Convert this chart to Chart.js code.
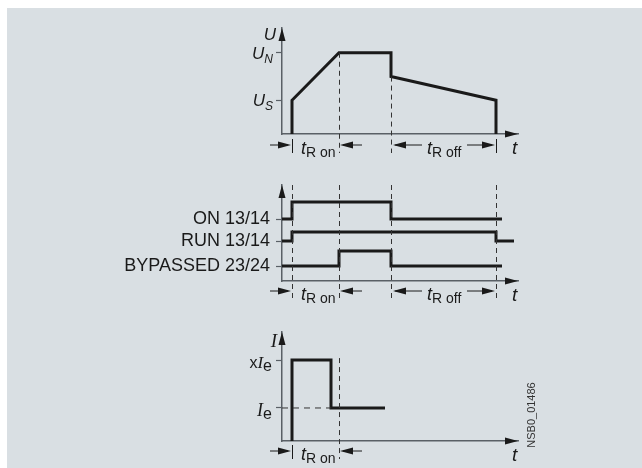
<!DOCTYPE html>
<html>
<head>
<meta charset="utf-8">
<script src="https://cdn.jsdelivr.net/npm/chart.js@4.4.0/dist/chart.umd.min.js"></script>
<style>
  html, body { margin: 0; padding: 0; background: #fff; width: 642px; height: 468px; overflow: hidden; }
  #panel { position: absolute; left: 7px; top: 8px; width: 635px; height: 460px; background: #d9dfe3; }
  canvas { position: absolute; left: 0; }
</style>
</head>
<body>
<div id="panel"></div>
<canvas id="cU" width="642" height="160" style="top:0px"></canvas>
<canvas id="cRelay" width="642" height="150" style="top:160px"></canvas>
<canvas id="cI" width="642" height="158" style="top:310px"></canvas>
<script>
// Time axis (arbitrary units), shared by all three panels
const timeMax = 23.6;
const tMarks = [1, 5.7, 10.9, 21.4]; // start, end of ramp-up, stop, end of ramp-down

// Voltage panel (U in % of U_N)
const uTime = [1, 1, 5.7, 10.9, 10.9, 21.4, 21.4];
const uValue = [0, 41.5, 100, 100, 70.7, 41.5, 0];
const uTickValues = [41.5, 100];
const uTickSubs = ['S', 'N'];
const uGuideTime = [5.7, 10.9];
const uGuideFrom = [100, 70.7];
const uMax = 130.5;

// Relay outputs panel (state 0 / 1)
const relayNames = ['ON 13/14', 'RUN 13/14', 'BYPASSED 23/24'];
const onTime = [0, 1, 1, 10.9, 10.9, 22.0];
const onState = [0, 0, 1, 1, 0, 0];
const runTime = [0, 1, 1, 21.4, 21.4, 23.2];
const runState = [0, 0, 1, 1, 0, 0];
const bypTime = [0, 5.7, 5.7, 10.9, 10.9, 22.0];
const bypState = [0, 0, 1, 1, 0, 0];
const relayLow = [62, 40, 15];
const relayHigh = [79, 49, 30];
const relayMax = 96;

// Current panel (I in multiples of I_e)
const iTime = [1, 1, 4.9, 4.9, 10.3];
const iValue = [0, 2.45, 2.45, 1, 1];
const iRefTime = [0, 4.9];
const iRefValue = [1, 1];
const iTickValues = [1, 2.45];
const iGuideTime = [5.7];
const iGuideFrom = [2.45];
const iMax = 3.3;

const INK = '#1a1a1a';
const AXIS = '#5a6066';
const SANS = "'Liberation Sans', Arial, sans-serif";
const SERIF = "'Liberation Serif', 'Times New Roman', serif";

Chart.defaults.font.family = SANS;
Chart.defaults.color = INK;

function pts(xs, ys) {
  return xs.map((x, i) => ({ x: x, y: ys[i] }));
}

function trace(data, extra) {
  return Object.assign({
    data: data, borderColor: INK, borderWidth: 3, pointRadius: 0, showLine: true,
    fill: false, tension: 0, clip: false, borderJoinStyle: 'miter', borderCapStyle: 'butt'
  }, extra || {});
}

// axis origin sits at x = 282 in every panel; yWidth is room for the y tick labels
function options(pad, yWidth, yMax, yTicks, tickOpts) {
  pad.left = 282 - yWidth;
  return {
    responsive: false, animation: false, devicePixelRatio: 1,
    layout: { padding: pad },
    plugins: { legend: { display: false }, tooltip: { enabled: false } },
    scales: {
      x: {
        type: 'linear', min: 0, max: timeMax, bounds: 'data',
        grid: { display: false }, ticks: { display: false },
        border: { color: AXIS, width: 1.5 },
        afterBuildTicks: s => { s.ticks = []; },
        afterFit: s => { s.height = 0; }
      },
      y: {
        type: 'linear', min: 0, max: yMax, bounds: 'data',
        grid: { drawOnChartArea: false, tickLength: 6, tickColor: AXIS, tickWidth: 1.2 },
        ticks: Object.assign({ display: false, autoSkip: false }, tickOpts || {}),
        border: { color: AXIS, width: 1.5 },
        afterBuildTicks: s => { s.ticks = yTicks.map(v => ({ value: v })); },
        afterFit: s => { s.width = yWidth; }
      }
    }
  };
}

// Drawing helpers
function head(ctx, x, y, dir) {
  const L = 13, H = 3.5;
  ctx.beginPath();
  ctx.moveTo(x, y);
  if (dir === 'up') { ctx.lineTo(x - H, y + L); ctx.lineTo(x + H, y + L); }
  if (dir === 'right') { ctx.lineTo(x - L, y - H); ctx.lineTo(x - L, y + H); }
  if (dir === 'left') { ctx.lineTo(x + L, y - H); ctx.lineTo(x + L, y + H); }
  ctx.closePath();
  ctx.fill();
}

function seg(ctx, x1, y1, x2, y2, w) {
  ctx.lineWidth = w || 1;
  ctx.beginPath();
  ctx.moveTo(x1, y1);
  ctx.lineTo(x2, y2);
  ctx.stroke();
}

function dashed(ctx, x, y1, y2) {
  ctx.save();
  ctx.strokeStyle = '#333';
  ctx.setLineDash([5, 4]);
  seg(ctx, Math.round(x) + 0.5, y1, Math.round(x) + 0.5, y2, 1);
  ctx.restore();
}

function runs(ctx, x, y, parts, align) {
  let w = 0;
  parts.forEach(p => { ctx.font = p[1]; w += ctx.measureText(p[0]).width; });
  let cx = align === 'right' ? x - w : x;
  ctx.textAlign = 'left';
  ctx.textBaseline = 'alphabetic';
  parts.forEach(p => {
    ctx.font = p[1];
    ctx.fillText(p[0], cx, y + (p[2] || 0));
    cx += ctx.measureText(p[0]).width;
  });
}

function tLabel(ctx, x, y, sub) {
  runs(ctx, x, y + 9, [['t', 'italic 18px ' + SANS], ['R ' + sub, '14px ' + SANS, 3]]);
}

// t_R on: arrows from outside pointing in
function dimOutside(ctx, xa, xb, y) {
  seg(ctx, xa - 22, y, xa - 4, y);
  head(ctx, xa - 1, y, 'right');
  seg(ctx, xb + 4, y, xb + 23, y);
  head(ctx, xb + 1, y, 'left');
  tLabel(ctx, xa + 9, y, 'on');
}

// t_R off: arrows from inside pointing out
function dimInside(ctx, xa, xb, y) {
  seg(ctx, xa + 4, y, xa + 31, y);
  head(ctx, xa + 2, y, 'left');
  seg(ctx, xb - 29, y, xb - 4, y);
  head(ctx, xb - 1, y, 'right');
  tLabel(ctx, xa + 36, y, 'off');
}

function bar(ctx, x, y) {
  seg(ctx, Math.round(x) + 0.5, y - 6, Math.round(x) + 0.5, y + 8, 1);
}

function axes(ctx, a) {
  ctx.fillStyle = INK;
  head(ctx, a.left, a.top, 'up');
  head(ctx, a.right, a.bottom, 'right');
  runs(ctx, a.right - 6, a.bottom + 20, [['t', 'italic 19px ' + SANS]]);
}

function decor(draw) {
  return {
    id: 'decor',
    afterDraw(chart) {
      const ctx = chart.ctx;
      ctx.save();
      ctx.fillStyle = INK;
      ctx.strokeStyle = INK;
      draw(ctx, chart.scales.x, chart.scales.y, chart.chartArea);
      ctx.restore();
    }
  };
}

// --- Voltage ---
new Chart(document.getElementById('cU'), {
  type: 'scatter',
  data: { datasets: [trace(pts(uTime, uValue))] },
  options: options({ right: 124, top: 28, bottom: 26 }, 0, uMax, uTickValues),
  plugins: [decor((ctx, x, y, a) => {
    const rowY = a.bottom + 11;
    uGuideTime.forEach((t, i) => dashed(ctx, x.getPixelForValue(t), y.getPixelForValue(uGuideFrom[i]), rowY + 8));
    bar(ctx, x.getPixelForValue(tMarks[0]), rowY);
    bar(ctx, x.getPixelForValue(tMarks[3]), rowY);
    dimOutside(ctx, x.getPixelForValue(tMarks[0]), x.getPixelForValue(tMarks[1]), rowY);
    dimInside(ctx, x.getPixelForValue(tMarks[2]), x.getPixelForValue(tMarks[3]), rowY);
    axes(ctx, a);
    runs(ctx, a.left - 6, a.top + 12, [['U', 'italic 17px ' + SANS]], 'right');
    uTickValues.forEach((v, i) => {
      const py = y.getPixelForValue(v);
      runs(ctx, a.left - 9, py + 6, [['U', 'italic 17px ' + SANS], [uTickSubs[i], 'italic 12px ' + SANS, 4]], 'right');
    });
  })]
});

// --- Relay outputs ---
const relayTimes = [onTime, runTime, bypTime];
const relayStates = [onState, runState, bypState];
new Chart(document.getElementById('cRelay'), {
  type: 'scatter',
  data: {
    datasets: relayTimes.map((ts, r) => trace(
      pts(ts, relayStates[r].map(s => relayLow[r] + s * (relayHigh[r] - relayLow[r])))))
  },
  options: options({ right: 124, top: 25, bottom: 29 }, 175, relayMax, relayLow, {
    display: true, padding: 6, color: INK,
    font: { family: SANS, size: 18 },
    callback: (v, i) => relayNames[i]
  }),
  plugins: [decor((ctx, x, y, a) => {
    const rowY = a.bottom + 10;
    tMarks.forEach(t => dashed(ctx, x.getPixelForValue(t), a.top, rowY + 8));
    dimOutside(ctx, x.getPixelForValue(tMarks[0]), x.getPixelForValue(tMarks[1]), rowY);
    dimInside(ctx, x.getPixelForValue(tMarks[2]), x.getPixelForValue(tMarks[3]), rowY);
    axes(ctx, a);
  })]
});

// --- Current ---
new Chart(document.getElementById('cI'), {
  type: 'scatter',
  data: {
    datasets: [
      trace(pts(iRefTime, iRefValue), { borderWidth: 1, borderColor: '#333', borderDash: [6, 5] }),
      trace(pts(iTime, iValue))
    ]
  },
  options: options({ right: 124, top: 22, bottom: 27 }, 0, iMax, iTickValues),
  plugins: [decor((ctx, x, y, a) => {
    const rowY = a.bottom + 10;
    iGuideTime.forEach((t, i) => dashed(ctx, x.getPixelForValue(t), y.getPixelForValue(iGuideFrom[i]) - 2, rowY + 8));
    bar(ctx, x.getPixelForValue(tMarks[0]), rowY);
    dimOutside(ctx, x.getPixelForValue(tMarks[0]), x.getPixelForValue(tMarks[1]), rowY);
    axes(ctx, a);
    runs(ctx, a.left - 5, a.top + 15, [['I', 'italic 19px ' + SERIF]], 'right');
    const pe = y.getPixelForValue(iTickValues[1]);
    runs(ctx, a.left - 10, pe + 8, [['x', '16px ' + SANS], ['I', 'italic 17px ' + SERIF], ['e', '16px ' + SANS, 3]], 'right');
    const p1 = y.getPixelForValue(iTickValues[0]);
    runs(ctx, a.left - 10, p1 + 8, [['I', 'italic 18px ' + SERIF], ['e', '16px ' + SANS, 3]], 'right');
    // drawing number, rotated
    ctx.save();
    ctx.translate(a.right + 14, a.top + 83);
    ctx.rotate(-Math.PI / 2);
    ctx.fillStyle = '#333';
    ctx.font = '11px ' + SANS;
    ctx.textAlign = 'center';
    ctx.textBaseline = 'middle';
    ctx.fillText('NSB0_01486', 0, 0);
    ctx.restore();
  })]
});
</script>
</body>
</html>
